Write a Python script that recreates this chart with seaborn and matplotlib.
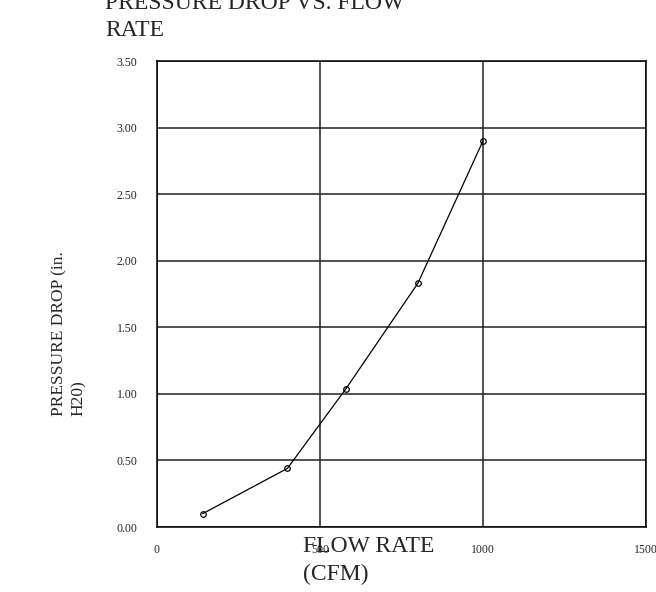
import matplotlib
matplotlib.use("Agg")
import matplotlib.pyplot as plt
import seaborn as sns
import pandas as pd

# values
flow_cfm = [140, 400, 580, 800, 1000]
pressure_drop = [0.10, 0.44, 1.04, 1.83, 2.90]

x_ticks = [0, 500, 1000, 1500]
y_ticks = [0.0, 0.5, 1.0, 1.5, 2.0, 2.5, 3.0, 3.5]

sns.set_style("white")
plt.rcParams["font.family"] = ["Liberation Serif", "DejaVu Serif"]

df = pd.DataFrame({"flow": flow_cfm, "dp": pressure_drop})

fig = plt.figure(figsize=(6.56, 5.92), dpi=100)
ax = fig.add_axes([157 / 656, 1 - 527 / 592, 489 / 656, 466 / 592])

sns.lineplot(data=df, x="flow", y="dp", ax=ax, color="black", lw=0.9,
             marker="o", markersize=4, markerfacecolor="none",
             markeredgecolor="black", markeredgewidth=0.9)

ax.set_xlim(0, 1500)
ax.set_ylim(0, 3.5)
ax.set_xticks(x_ticks)
ax.set_yticks(y_ticks)
ax.set_xticklabels([str(v) for v in x_ticks], fontsize=8.5)
ax.set_yticklabels([f"{v:.2f}" for v in y_ticks], fontsize=8.5)
ax.tick_params(axis="both", length=0)
ax.tick_params(axis="y", pad=14)
ax.tick_params(axis="x", pad=12)
ax.grid(True, color="#222222", lw=1.1)
for s in ax.spines.values():
    s.set_color("black")
    s.set_linewidth(1.1)
ax.set_xlabel("")
ax.set_ylabel("")

fig.text(105 / 656, 1 - 41 / 592, "PRESSURE DROP VS. FLOW\nRATE",
         fontsize=17, ha="left", va="bottom", linespacing=1.4)
fig.text(303 / 656, 1 - 536 / 592, "FLOW RATE\n(CFM)", fontsize=17,
         ha="left", va="top", linespacing=1.4)
fig.text(69 / 656, 1 - 334 / 592, "PRESSURE DROP (in.\nH20)", fontsize=12.5,
         rotation=90, ha="center", va="center", multialignment="left",
         linespacing=1.3)

fig.savefig("out.png", dpi=100)
